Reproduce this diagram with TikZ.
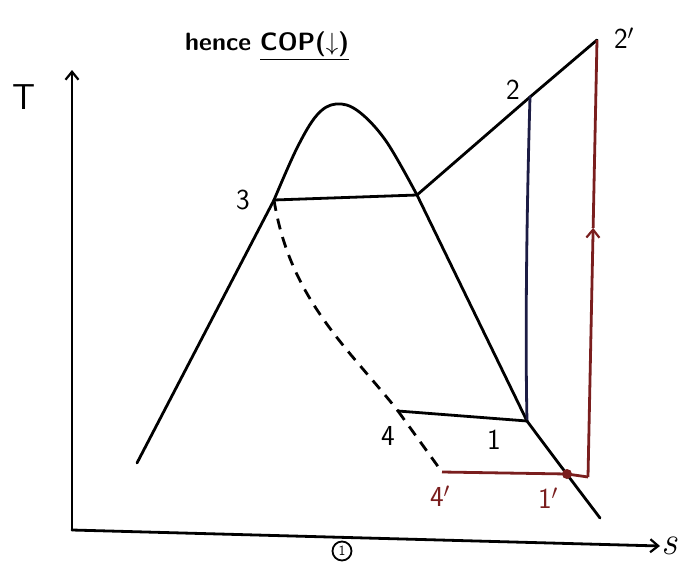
\documentclass[tikz,border=0pt]{standalone}
\usepackage{fontspec}
\usepackage{amsmath, amssymb}
\usepackage{xcolor}
\usetikzlibrary{positioning, arrows.meta}
\definecolor{darkred}{HTML}{7A1E1E}
\definecolor{inkblue}{HTML}{1C1C44}

\begin{document}
\begin{tikzpicture}[
    x=1pt, y=-1pt,
    curve/.style={line width=2.8pt, black, line join=round, line cap=round},
    dashline/.style={line width=2.8pt, black, dash pattern=on 11pt off 8pt},
    redline/.style={line width=2.8pt, darkred, line join=round},
    lbl/.style={font=\sffamily\fontsize{29}{31}\selectfont, inner sep=1pt},
    redlbl/.style={lbl, text=darkred},
    every node/.style={font=\sffamily},
    >={Straight Barb[length=8pt, width=13pt, line width=2.2pt]}
]
    \useasboundingbox (0,0) rectangle (683,562);

    % state points
    \coordinate (p3) at (274,200);
    \coordinate (sv) at (417,195);
    \coordinate (p2) at (530,97);
    \coordinate (p2p) at (597,40);
    \coordinate (p1) at (527,421);
    \coordinate (p4) at (398,411);
    \coordinate (p4p) at (442,472);
    \coordinate (p1p) at (567,474);
    \coordinate (c1) at (588,477);
    \coordinate (dend) at (600,518);
    \coordinate (dbase) at (137,463);

    % axes
    \coordinate (O) at (72,530);
    \coordinate (Ttop) at (72,70);
    \coordinate (send) at (660,546);
    \draw[curve, ->] (O) -- (Ttop);
    \draw[curve, ->] (O) -- (send);
    \node[lbl, font=\sffamily\fontsize{36}{38}\selectfont] (Tlab) at (24,97) {T};
    \node[lbl, font=\rmfamily\itshape\fontsize{40}{42}\selectfont, right=0pt of send, yshift=0pt] (slab) {s};

    % saturation dome
    \draw[curve] (dbase) -- (p3);
    \draw[curve] plot[smooth, tension=0.6] coordinates {(274,200) (297,148) (317,115) (336,104) (358,111) (386,141) (417,195)};
    \draw[curve] (sv) -- (p1);
    \draw[curve] (p1) .. controls (550,452) and (575,485) .. (dend);

    % cycle 1-2-3-4
    \draw[curve] (p3) -- (sv);
    \draw[curve] (sv) -- (p2);
    \draw[curve] (p2) -- (p2p);
    \draw[curve, inkblue] (p2) .. controls (527,200) and (525,330) .. (p1);
    \draw[curve] (p4) -- (p1);
    \draw[dashline] (p3) .. controls (290,300) and (350,350) .. (p4);
    \draw[dashline] (p4) -- (p4p);

    % modified cycle 4'-1'-2'
    \draw[redline] (p4p) -- (p1p);
    \draw[redline] (p1p) -- (c1);
    \path (c1) -- coordinate[pos=0.57] (rmid) (p2p);
    \draw[redline, ->] (c1) -- (rmid);
    \draw[redline] (rmid) -- (p2p);
    \fill[darkred] (p1p) circle (5pt);

    % labels
    \node[lbl] (l3) at (243,200) {3};
    \node[lbl] (l2) at (513,90) {2};
    \node[lbl] (l2p) at (624,38) {2$'$};
    \node[lbl] (l1) at (494,440) {1};
    \node[lbl] (l4) at (388,436) {4};
    \node[redlbl] (l4p) at (440,496) {4$'$};
    \node[redlbl] (l1p) at (548,498) {1$'$};

    % note
    \node[font=\sffamily\bfseries\fontsize{25}{27}\selectfont, anchor=base west, inner sep=0pt] (note) at (185,50) {hence \underline{COP($\downarrow$)}};
    \node[circle, draw, line width=1.8pt, minimum size=19pt, inner sep=0pt, font=\sffamily\fontsize{14}{16}\selectfont] (circ) at (342,551) {1};
\end{tikzpicture}
\end{document}
